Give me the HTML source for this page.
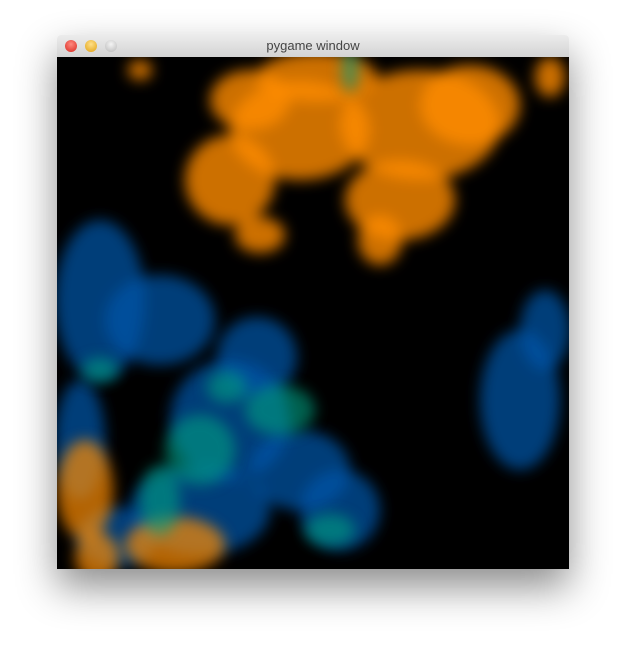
<!DOCTYPE html>
<html><head><meta charset="utf-8"><style>
html,body{margin:0;padding:0;background:#fff;width:626px;height:648px;overflow:hidden}
#win{position:absolute;left:57px;top:35px;width:512px;height:534px;box-shadow:0 18px 40px rgba(0,0,0,0.45);border-radius:4px 4px 0 0}
#title{height:22px;background:linear-gradient(#ececec,#d3d3d3);border-bottom:1px solid #999;border-radius:4px 4px 0 0;position:relative;font:13px "Liberation Sans",sans-serif;color:#444;text-align:center;line-height:22px}
.btn{position:absolute;top:5px;width:12px;height:12px;border-radius:50%}
#canvas{position:absolute;top:22px;left:0;width:512px;height:512px;background:#000}
</style></head><body>
<div id="win">
 <div id="title">pygame window
  <div class="btn" style="left:8px;background:radial-gradient(circle at 50% 35%,#ff8a80,#d8281e)"></div>
  <div class="btn" style="left:28px;background:radial-gradient(circle at 50% 35%,#ffe08a,#e0a010)"></div>
  <div class="btn" style="left:48px;background:radial-gradient(circle at 50% 35%,#f4f4f4,#b8b8b8)"></div>
 </div>
 <svg id="canvas" width="512" height="512"></svg>
</div>
<script>
// blob data: [cx, cy, rx, ry] in canvas coordinates
const orangeBlobs=[[243,73,70,50],[363,68,80,55],[173,123,45,45],[343,143,55,40],[413,48,50,40],[193,43,40,30],[323,183,22,25],[83,13,12,10],[493,20,15,20],[203,178,25,18],[260,20,60,25]];
const blueBlobs=[[43,243,45,80],[103,263,55,45],[173,363,60,60],[243,413,50,40],[283,453,40,40],[143,453,70,45],[23,383,25,60],[463,343,40,70],[488,273,25,40],[200,300,40,40],[60,480,40,30]];
const orangeLowBlobs=[[28,433,28,50],[118,488,50,28],[40,500,22,25]];
const tealBlobs=[[293,13,8,22],[223,353,35,25],[143,393,35,35],[103,443,20,35],[43,313,18,12],[273,473,25,16],[170,330,20,16]];
const series=[["orange",orangeBlobs,"#ff8c00",0.8],["blue",blueBlobs,"#0055a8",0.72],["orange-lower",orangeLowBlobs,"#ff8c00",0.7],["teal",tealBlobs,"#00a082",0.6]];
const NS="http://www.w3.org/2000/svg";
const svg=document.getElementById('canvas');
const defs=document.createElementNS(NS,'defs');
defs.innerHTML='<filter id="soft"><feGaussianBlur stdDeviation="7"/></filter>';
svg.appendChild(defs);
series.forEach(([name,blobs,color,op])=>{
  const g=document.createElementNS(NS,'g');
  
  
  g.setAttribute('filter','url(#soft)');
  blobs.forEach(b=>{
    const e=document.createElementNS(NS,'ellipse');
    
    
    e.setAttribute('cx',b[0]);e.setAttribute('cy',b[1]);
    e.setAttribute('rx',b[2]);e.setAttribute('ry',b[3]);
    e.setAttribute('fill',color);e.setAttribute('opacity',op);
    g.appendChild(e);
  });
  svg.appendChild(g);
});
</script>
</body></html>
